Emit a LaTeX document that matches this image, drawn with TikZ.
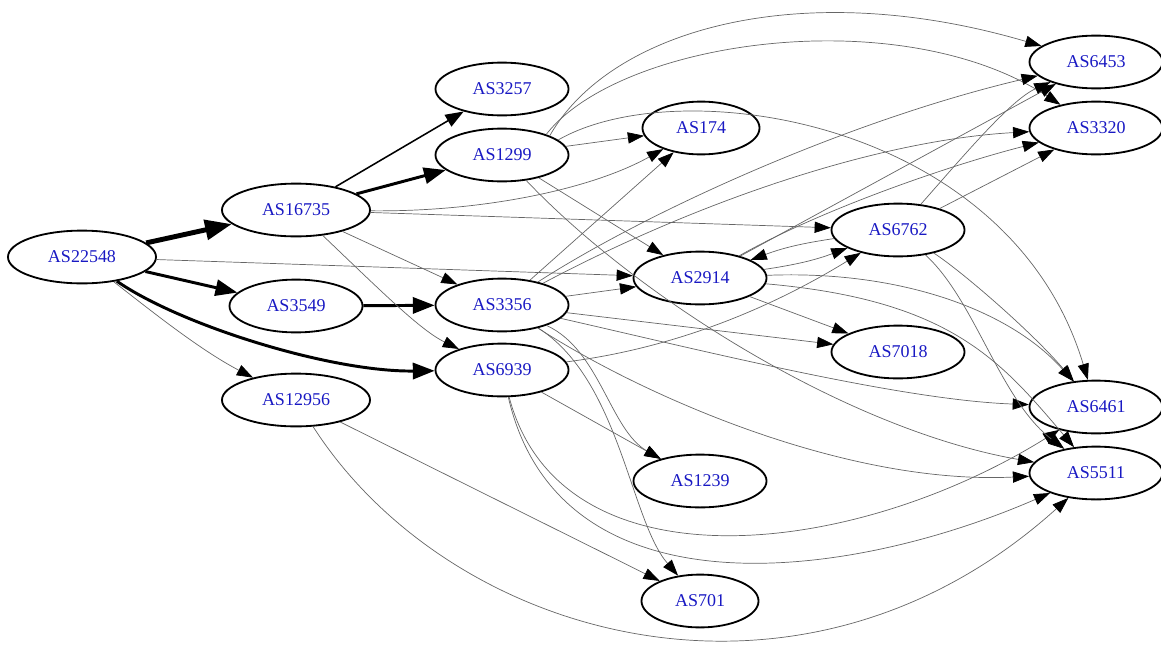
\documentclass[tikz,border=0pt]{standalone}
\usepackage{fontspec}
\setmainfont{Liberation Serif}
\usetikzlibrary{shapes.geometric,arrows.meta}
\definecolor{aslabel}{RGB}{25,25,195}

\tikzset{
  asnode/.style={ellipse, draw, line width=1.3pt, inner sep=0pt,
    minimum width=3.325cm, minimum height=1.32cm, text=aslabel,
    font=\fontsize{12.8}{14}\selectfont},
  widebox/.style={minimum width=3.7cm},
  slimbox/.style={minimum width=2.925cm},
  link/.style={draw=black!60, line width=0.5pt, -{Triangle[length=11.5pt,width=8pt,color=black]}},
  midlink/.style={draw=black, line width=1.1pt, -{Triangle[length=13pt,width=9.5pt]}},
  fatlink/.style={draw=black, line width=2.1pt, -{Triangle[length=15.5pt,width=11.5pt]}},
  hugelink/.style={draw=black, line width=3.5pt, -{Triangle[length=19pt,width=14pt]}},
}

\begin{document}
\begin{tikzpicture}[x=0.025cm, y=-0.025cm]
    \useasboundingbox (0,0) rectangle (1161,645);

    % AS-Knoten
    \node[asnode, widebox] (n22548) at (82,257)  {AS22548};
    \node[asnode, widebox] (n16735) at (296,210) {AS16735};
    \node[asnode]          (n3549)  at (296,306) {AS3549};
    \node[asnode, widebox] (n12956) at (296,400) {AS12956};
    \node[asnode]          (n3257)  at (502,89)  {AS3257};
    \node[asnode]          (n1299)  at (502,155) {AS1299};
    \node[asnode]          (n3356)  at (502,305) {AS3356};
    \node[asnode]          (n6939)  at (502,370) {AS6939};
    \node[asnode, slimbox] (n174)   at (701,128) {AS174};
    \node[asnode]          (n2914)  at (700,278) {AS2914};
    \node[asnode]          (n1239)  at (700,481) {AS1239};
    \node[asnode, slimbox] (n701)   at (700,601) {AS701};
    \node[asnode]          (n6762)  at (898,230) {AS6762};
    \node[asnode]          (n7018)  at (898,352) {AS7018};
    \node[asnode]          (n6453)  at (1096,62)  {AS6453};
    \node[asnode]          (n3320)  at (1096,128) {AS3320};
    \node[asnode]          (n6461)  at (1096,407) {AS6461};
    \node[asnode]          (n5511)  at (1096,473) {AS5511};

    % starke Kanten
    \draw[hugelink] (n22548) -- (n16735);
    \draw[fatlink] (n22548) -- (n3549);
    \draw[fatlink] (n22548) .. controls (180,325) and (330,372) .. (n6939);
    \draw[fatlink] (n16735) -- (n1299);
    \draw[fatlink] (n3549) -- (n3356);
    \draw[midlink] (n16735) -- (n3257);

    % AS22548, AS16735
    \draw[link] (n22548) .. controls (150,310) and (200,350) .. (n12956);
    \draw[link] (n22548) -- (n2914);
    \draw[link] (n16735) .. controls (480,212) and (590,190) .. (n174);
    \draw[link] (n16735) -- (n6762);
    \draw[link] (n16735) -- (n3356);
    \draw[link] (n16735) .. controls (380,290) and (420,330) .. (n6939);

    % AS1299
    \draw[link] (n1299) -- (n174);
    \draw[link] (n1299) -- (n2914);
    \draw[link] (n1299.22) .. controls (610,30) and (800,-25) .. (n6453);
    \draw[link] (n1299.25) .. controls (620,40) and (900,0) .. (n3320);
    \draw[link] (n1299.15) .. controls (680,70) and (1010,120) .. (n6461);
    \draw[link] (n1299) .. controls (640,300) and (850,430) .. (n5511);

    % AS3356
    \draw[link] (n3356) -- (n174);
    \draw[link] (n3356) .. controls (650,210) and (850,120) .. (n6453);
    \draw[link] (n3356) .. controls (700,200) and (880,140) .. (n3320);
    \draw[link] (n3356) -- (n2914);
    \draw[link] (n3356) -- (n7018);
    \draw[link] (n3356) .. controls (700,350) and (900,400) .. (n6461);
    \draw[link] (n3356) .. controls (650,400) and (850,485) .. (n5511);
    \draw[link] (n3356) .. controls (600,350) and (610,430) .. (n1239);
    \draw[link] (n3356) .. controls (620,380) and (630,520) .. (n701);

    % AS6939
    \draw[link] (n6939) .. controls (700,345) and (800,290) .. (n6762);
    \draw[link] (n6939) -- (n1239);
    \draw[link] (n6939) .. controls (560,590) and (850,560) .. (n6461);
    \draw[link] (n6939) .. controls (560,620) and (850,580) .. (n5511);

    % AS2914
    \draw[link] (n2914) to[bend right=6] (n6762);
    \draw[link] (n2914) -- (n7018);
    \draw[link] (n2914) -- (n6453);
    \draw[link] (n2914) .. controls (820,210) and (950,165) .. (n3320);
    \draw[link] (n2914) .. controls (900,270) and (1010,310) .. (n6461);
    \draw[link] (n2914) .. controls (950,300) and (1000,360) .. (n5511);

    % AS6762
    \draw[link] (n6762) to[bend right=6] (n2914);
    \draw[link] (n6762) .. controls (960,160) and (1010,100) .. (n6453);
    \draw[link] (n6762) -- (n3320);
    \draw[link] (n6762) .. controls (960,270) and (1030,330) .. (n6461);
    \draw[link] (n6762) .. controls (975,300) and (1000,400) .. (n5511);

    % AS12956
    \draw[link] (n12956) -- (n701);
    \draw[link] (n12956) .. controls (450,640) and (800,740) .. (n5511);
\end{tikzpicture}
\end{document}
